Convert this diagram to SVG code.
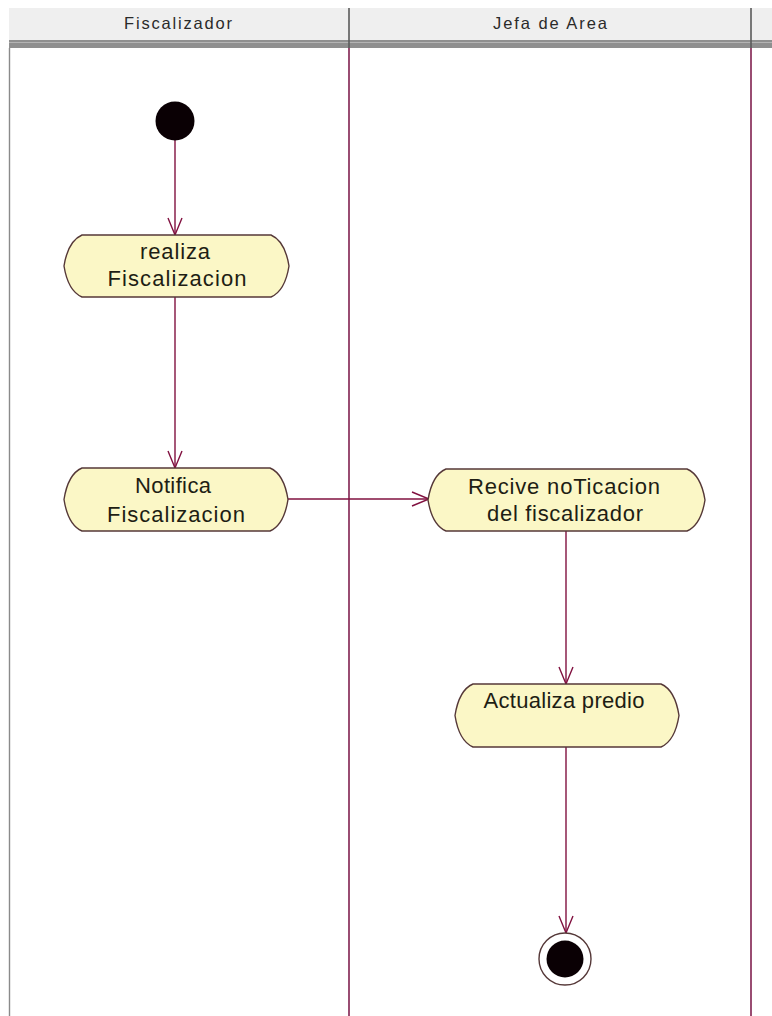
<svg xmlns="http://www.w3.org/2000/svg" width="772" height="1016" viewBox="0 0 772 1016">
  <defs>
    <style>
      .hdr { font-family: "Liberation Sans", Arial, sans-serif; font-size: 16.5px; fill: #2a2a2a; text-anchor: middle; }
      .lbl { font-family: "Liberation Sans", Arial, sans-serif; font-size: 22px; fill: #1e1e14; text-anchor: middle; }
      .act { fill: #FBF7C6; stroke: #553838; stroke-width: 1.4; }
      .lane { stroke: #80204f; stroke-width: 1.6; fill: none; }
      .flow { stroke: #80103f; stroke-width: 1.4; fill: none; marker-end: url(#open); }
    </style>
    <marker id="open" viewBox="0 0 20 20" refX="18" refY="10" markerWidth="20" markerHeight="20" markerUnits="userSpaceOnUse" orient="auto">
      <path d="M1,3 L18,10 L1,17" fill="none" stroke="#80103f" stroke-width="1.4"/>
    </marker>
  </defs>
  <rect width="772" height="1016" fill="#ffffff"/>

  <!-- swimlane header -->
  <g id="header">
    <rect x="9" y="8" width="763" height="33" fill="#EFEFEF"/>
    <rect x="9" y="40" width="763" height="8" fill="#8f8f8f"/>
    <line x1="9" y1="42.5" x2="772" y2="42.5" stroke="#b4b4b4" stroke-width="1"/>
    <line x1="349" y1="8" x2="349" y2="48" stroke="#5a5a5a" stroke-width="1.6"/>
    <line x1="751" y1="8" x2="751" y2="48" stroke="#5a5a5a" stroke-width="1.6"/>
    <text class="hdr" x="178" y="29" textLength="108">Fiscalizador</text>
    <text class="hdr" x="550" y="29" textLength="114">Jefa de Area</text>
  </g>

  <!-- lane borders -->
  <g id="lanes">
    <line x1="9.5" y1="48" x2="9.5" y2="1016" stroke="#8a8a8a" stroke-width="1.4"/>
    <line class="lane" x1="349" y1="48" x2="349" y2="1016"/>
    <line class="lane" x1="751" y1="48" x2="751" y2="1016"/>
  </g>

  <!-- connectors -->
  <g id="connectors">
    <line class="flow" x1="175" y1="140" x2="175" y2="235"/>
    <line class="flow" x1="175" y1="297" x2="175" y2="468"/>
    <line class="flow" x1="288" y1="499" x2="429" y2="499"/>
    <line class="flow" x1="566" y1="531" x2="566" y2="684"/>
    <line class="flow" x1="566" y1="747" x2="566" y2="933"/>
  </g>

  <g id="start">
    <circle cx="175" cy="121" r="19.5" fill="#0a0004"/>
  </g>

  <!-- activity outline: flat top/bottom with bowed ends -->
  <g id="realiza-fiscalizacion">
    <path class="act" d="M82,235 H271 Q285,241 289,266 Q285,291 271,297 H82 Q68,291 64,266 Q68,241 82,235 Z"/>
    <text class="lbl" x="175" y="259" textLength="70">realiza</text>
    <text class="lbl" x="177" y="286" textLength="139">Fiscalizacion</text>
  </g>

  <g id="notifica-fiscalizacion">
    <path class="act" d="M82,468 H270 Q284,474 288,499.5 Q284,525 270,531 H82 Q68,525 64,499.5 Q68,474 82,468 Z"/>
    <text class="lbl" x="173" y="493" textLength="76">Notifica</text>
    <text class="lbl" x="176" y="522" textLength="138">Fiscalizacion</text>
  </g>

  <g id="recive-notificacion">
    <path class="act" d="M446,469 H687 Q701,475 705,500 Q701,525 687,531 H446 Q432,525 428,500 Q432,475 446,469 Z"/>
    <text class="lbl" x="564" y="494" textLength="192">Recive noTicacion</text>
    <text class="lbl" x="565" y="521" textLength="156">del fiscalizador</text>
  </g>

  <g id="actualiza-predio">
    <path class="act" d="M473,684 H661 Q675,690 679,715.5 Q675,741 661,747 H473 Q459,741 455,715.5 Q459,690 473,684 Z"/>
    <text class="lbl" x="564" y="708" textLength="161">Actualiza predio</text>
  </g>

  <g id="end">
    <circle cx="565" cy="959" r="26" fill="#ffffff" stroke="#553838" stroke-width="1.4"/>
    <circle cx="565" cy="959" r="18.5" fill="#0a0004"/>
  </g>
</svg>
